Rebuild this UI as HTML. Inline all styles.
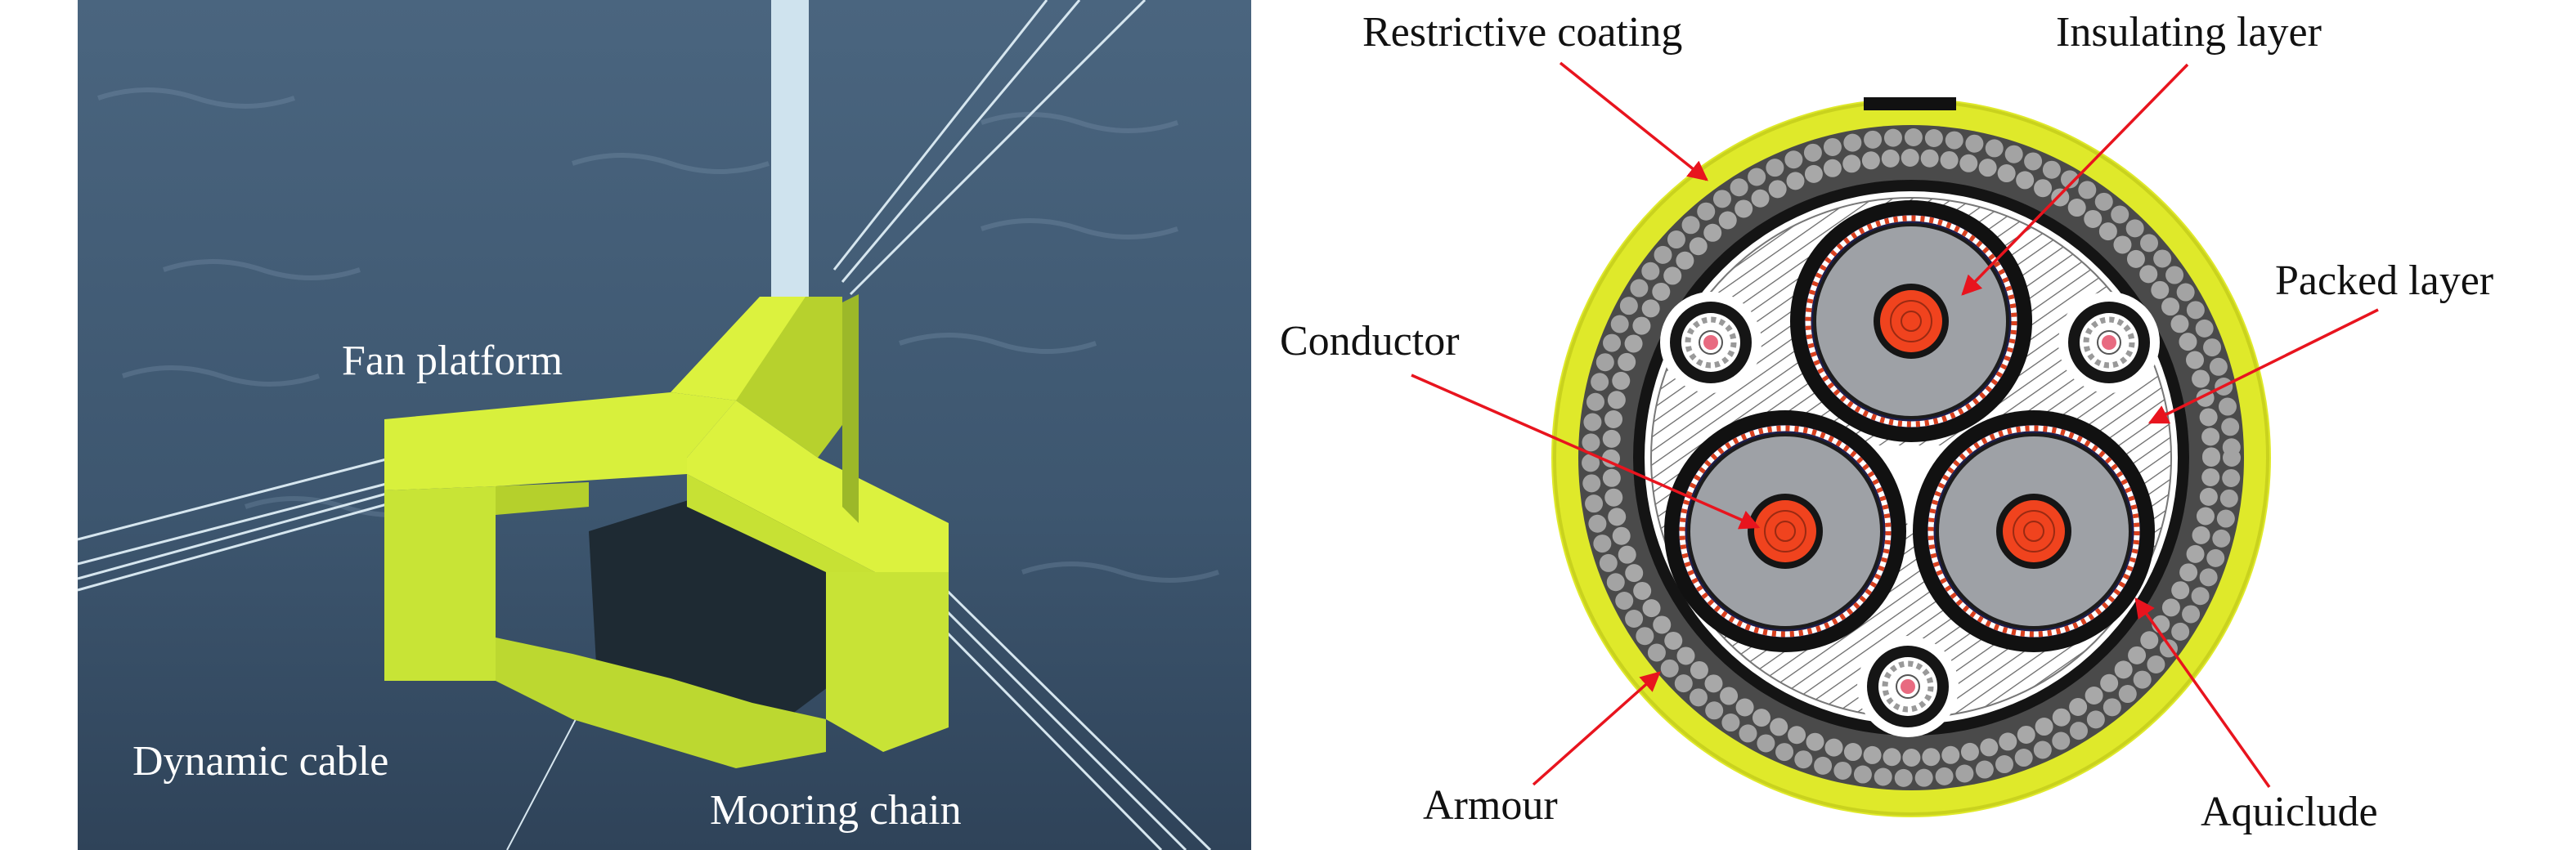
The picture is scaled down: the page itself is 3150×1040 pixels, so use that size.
<!DOCTYPE html>
<html><head><meta charset="utf-8"><style>
html,body{margin:0;padding:0;background:#fff}
svg{display:block}
text{font-family:"Liberation Serif",serif}
</style></head><body>
<svg width="3150" height="1040" viewBox="0 0 3150 1040" xmlns="http://www.w3.org/2000/svg">
<defs>
<pattern id="hatch" width="14" height="14" patternUnits="userSpaceOnUse" patternTransform="rotate(55)">
<rect width="14" height="14" fill="#fff"/><line x1="0" y1="0" x2="0" y2="14" stroke="#666" stroke-width="2.5"/>
</pattern>
<linearGradient id="water" x1="0" y1="0" x2="0" y2="1">
<stop offset="0" stop-color="#4a657f"/><stop offset="0.6" stop-color="#3d566f"/><stop offset="1" stop-color="#2f4359"/>
</linearGradient>
<marker id="ah" viewBox="0 0 10 10" refX="9" refY="5" markerWidth="7" markerHeight="7" orient="auto-start-reverse">
<path d="M0,0 L10,5 L0,10 z" fill="#e8141e"/>
</marker>
<g id="core">
<circle r="148" fill="#111"/>
<circle r="130" fill="#1d1d4a"/>
<circle r="126" fill="none" stroke="#fff" stroke-width="7"/>
<circle r="126" fill="none" stroke="#d8401f" stroke-width="7" stroke-dasharray="5 6"/>
<circle r="120" fill="#1c1c1c"/>
<circle r="116" fill="#9ea1a6"/>
<circle r="46" fill="#151515"/>
<circle r="38" fill="#f0431e"/>
<g stroke="#9a2a12" stroke-width="2" fill="none"><circle r="12"/><circle r="25"/></g>
</g>
<g id="small">
<circle r="50" fill="#151515"/>
<circle r="36" fill="#fff"/>
<circle r="28" fill="none" stroke="#999" stroke-width="7" stroke-dasharray="6 5"/>
<circle r="14" fill="#fff" stroke="#555" stroke-width="2"/>
<circle r="9" fill="#e86a80"/>
</g>
</defs>

<!-- Photo -->
<rect x="95" y="0" width="1435" height="1040" fill="url(#water)"/>
<g opacity="0.25" stroke="#8aa3bb" stroke-width="6" fill="none">
<path d="M120 120 q60 -20 120 0 t120 0"/><path d="M700 200 q60 -20 120 0 t120 0"/>
<path d="M1100 420 q60 -20 120 0 t120 0"/><path d="M200 330 q60 -20 120 0 t120 0"/>
<path d="M1200 150 q60 -20 120 0 t120 0"/><path d="M300 620 q60 -20 120 0 t120 0"/>
<path d="M1250 700 q60 -20 120 0 t120 0"/><path d="M150 460 q60 -20 120 0 t120 0"/>
<path d="M1200 280 q60 -20 120 0 t120 0"/>
</g>
<!-- lines -->
<g stroke="#d6e6ef" stroke-width="3" fill="none">
<line x1="95" y1="660" x2="480" y2="560"/><line x1="95" y1="690" x2="480" y2="590"/>
<line x1="95" y1="708" x2="480" y2="602"/><line x1="95" y1="722" x2="480" y2="615"/>
<line x1="1130" y1="695" x2="1480" y2="1040"/><line x1="1115" y1="705" x2="1450" y2="1040"/>
<line x1="1100" y1="715" x2="1420" y2="1040"/>
<line x1="1020" y1="330" x2="1280" y2="0"/><line x1="1030" y1="345" x2="1320" y2="0"/>
<line x1="1040" y1="360" x2="1400" y2="0"/>
<line x1="830" y1="640" x2="620" y2="1040" stroke-width="2"/>
</g>
<!-- pole -->
<rect x="943" y="0" width="46" height="365" fill="#cfe3ee"/>
<!-- platform -->
<polygon points="720,650 880,600 1010,640 1040,820 960,880 730,830" fill="#1e2a33"/>
<polygon points="929,363 1030,363 1030,520 1000,560 900,490" fill="#b7d12d"/>
<polygon points="929,363 985,363 900,490 820,480" fill="#dcf23e"/>
<polygon points="470,513 820,480 900,490 840,560 840,580 606,595 470,600" fill="#d8f03c"/>
<polygon points="470,600 606,595 606,833 470,833" fill="#c8e436"/>
<polygon points="606,595 720,590 720,620 606,630" fill="#b5d02c"/>
<polygon points="840,560 900,490 1000,560 1160,640 1160,700 1070,700 840,580" fill="#dcf23e"/>
<polygon points="840,580 1070,700 1010,700 840,620" fill="#c7e134"/>
<polygon points="1010,700 1160,700 1160,890 1080,920 1010,880" fill="#c8e336"/>
<polygon points="606,780 700,800 820,830 920,860 1010,880 1010,920 900,940 700,880 606,833" fill="#bcd830"/>
<polygon points="1030,370 1050,360 1050,640 1030,620" fill="#9cb829"/>
<!-- photo labels -->
<g fill="#fff" font-size="52">
<text x="418" y="458">Fan platform</text>
<text x="162" y="948">Dynamic cable</text>
<text x="868" y="1008">Mooring chain</text>
</g>

<!-- Cable cross-section -->
<circle cx="2337" cy="560" r="440" fill="#dfe92a"/>
<circle cx="2337" cy="560" r="436" fill="none" stroke="#c9d21e" stroke-width="4"/>
<rect x="2279" y="119" width="113" height="16" fill="#111"/>
<circle cx="2337" cy="560" r="407" fill="#4a4a4a"/>
<circle cx="2337" cy="560" r="392" fill="none" stroke="#a3a3a3" stroke-width="22" stroke-dasharray="0 25" stroke-linecap="round"/>
<circle cx="2337" cy="560" r="367" fill="none" stroke="#a8a8a8" stroke-width="22" stroke-dasharray="0 24" stroke-linecap="round"/>
<circle cx="2337" cy="560" r="340" fill="#141414"/>
<circle cx="2337" cy="560" r="326" fill="#fff"/>
<circle cx="2337" cy="560" r="318" fill="url(#hatch)" stroke="#777" stroke-width="2"/>
<circle cx="2092" cy="419" r="62" fill="#fff"/>
<circle cx="2579" cy="419" r="62" fill="#fff"/>
<circle cx="2333" cy="840" r="62" fill="#fff"/>
<polygon points="2285,545 2390,545 2337,650" fill="#fff"/>
<use href="#core" x="2337" y="393"/>
<use href="#core" x="2183" y="650"/>
<use href="#core" x="2487" y="650"/>
<use href="#small" x="2092" y="419"/>
<use href="#small" x="2579" y="419"/>
<use href="#small" x="2333" y="840"/>

<!-- arrows -->
<g stroke="#e8141e" stroke-width="3.5" marker-end="url(#ah)">
<line x1="1908" y1="77" x2="2087" y2="220"/>
<line x1="2675" y1="79" x2="2400" y2="360"/>
<line x1="2908" y1="379" x2="2629" y2="517"/>
<line x1="1726" y1="459" x2="2150" y2="645"/>
<line x1="1875" y1="960" x2="2029" y2="823"/>
<line x1="2775" y1="963" x2="2612" y2="733"/>
</g>
<g fill="#111" font-size="52">
<text x="1666" y="56">Restrictive coating</text>
<text x="2514" y="56">Insulating layer</text>
<text x="2782" y="360">Packed layer</text>
<text x="1565" y="434">Conductor</text>
<text x="1740" y="1002">Armour</text>
<text x="2691" y="1010">Aquiclude</text>
</g>
</svg>
</body></html>
